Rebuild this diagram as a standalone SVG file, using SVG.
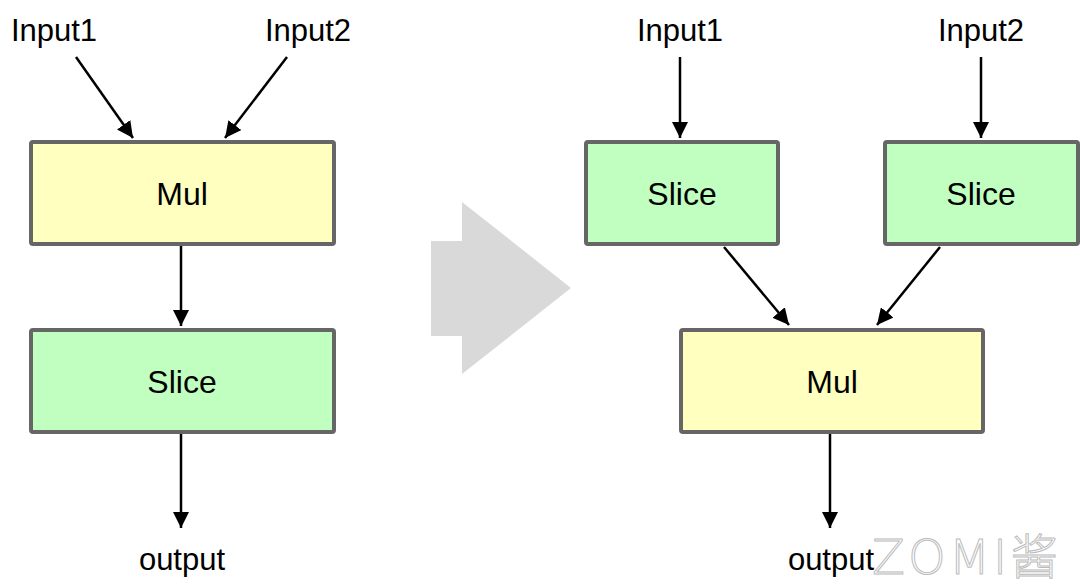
<svg xmlns="http://www.w3.org/2000/svg" width="1080" height="587" viewBox="0 0 1080 587">
<defs>
<marker id="ah" viewBox="0 0 10 10" refX="10" refY="5" markerWidth="6.5" markerHeight="6.5" markerUnits="strokeWidth" orient="auto">
<path d="M0,0 L10,5 L0,10 Z" fill="#000"/>
</marker>
<style>
.box{stroke:#666;stroke-width:4}
.mul{fill:#ffffc0}
.slice{fill:#c0ffc0}
.t{font-family:"Liberation Sans",Arial,sans-serif;font-size:31px;fill:#000;text-anchor:middle}
.b{font-size:32px}
.c{stroke:#000;stroke-width:2.5;fill:none;marker-end:url(#ah)}
</style>
</defs>
<rect width="1080" height="587" fill="#fff"/>
<polygon points="431,241 462,241 462,202 571,288 462,374 462,336 431,336" fill="#d9d9d9"/>
<g id="connectors">
<line class="c" x1="76" y1="57" x2="133" y2="138"/>
<line class="c" x1="287" y1="57" x2="225" y2="138"/>
<line class="c" x1="181" y1="246" x2="181" y2="326"/>
<line class="c" x1="181" y1="433" x2="181" y2="528"/>
<line class="c" x1="680" y1="57" x2="680" y2="138"/>
<line class="c" x1="981" y1="57" x2="981" y2="138"/>
<line class="c" x1="724" y1="247" x2="789" y2="325"/>
<line class="c" x1="940" y1="247" x2="877" y2="325"/>
<line class="c" x1="830" y1="433" x2="830" y2="528"/>
</g>
<g id="left-input1"><text class="t" x="54" y="41">Input1</text></g>
<g id="left-input2"><text class="t" x="308" y="41">Input2</text></g>
<g id="left-mul"><rect class="box mul" x="31" y="142" width="303" height="102" rx="2"/><text class="t b" x="182" y="205">Mul</text></g>
<g id="left-slice"><rect class="box slice" x="31" y="330" width="303" height="102" rx="2"/><text class="t b" x="182" y="393">Slice</text></g>
<g id="left-output"><text class="t" x="182" y="570">output</text></g>
<g id="right-input1"><text class="t" x="680" y="41">Input1</text></g>
<g id="right-input2"><text class="t" x="981" y="41">Input2</text></g>
<g id="right-slice1"><rect class="box slice" x="586" y="142" width="192" height="102" rx="2"/><text class="t b" x="682" y="205">Slice</text></g>
<g id="right-slice2"><rect class="box slice" x="885" y="142" width="193" height="102" rx="2"/><text class="t b" x="981" y="205">Slice</text></g>
<g id="right-mul"><rect class="box mul" x="681" y="330" width="302" height="102" rx="2"/><text class="t b" x="832" y="393">Mul</text></g>
<g id="right-output"><text class="t" x="831" y="570">output</text></g>
<text x="872" y="574" font-family="'DejaVu Sans','Noto Sans CJK SC',sans-serif" font-size="48" font-weight="200" fill="#fff" stroke="#bbb" stroke-width="1" letter-spacing="3">ZOMI酱</text>
</svg>
